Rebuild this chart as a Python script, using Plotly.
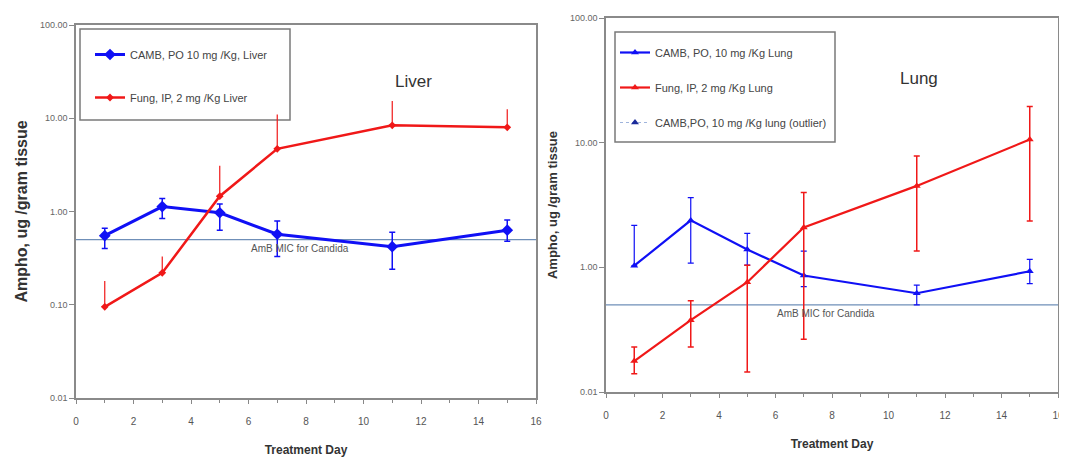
import math
import plotly.graph_objects as go

# ---------------- data ----------------
days = [1, 3, 5, 7, 11, 15]

liver_camb = [0.55, 1.13, 0.97, 0.57, 0.42, 0.63]
liver_camb_hi = [0.66, 1.38, 1.20, 0.79, 0.60, 0.81]
liver_camb_lo = [0.40, 0.84, 0.63, 0.33, 0.24, 0.48]

liver_fung = [0.095, 0.22, 1.46, 4.7, 8.4, 8.0]
liver_fung_hi = [0.18, 0.33, 3.1, 11.0, 15.3, 12.5]

lung_camb = [1.03, 2.38, 1.39, 0.86, 0.62, 0.93]
lung_camb_hi = [2.17, 3.63, 1.87, 1.35, 0.72, 1.16]
lung_camb_lo = [1.03, 1.08, 1.04, 0.70, 0.50, 0.74]

lung_fung = [0.177, 0.377, 0.76, 2.09, 4.5, 10.6]
lung_fung_hi = [0.23, 0.54, 1.04, 3.98, 7.8, 19.5]
lung_fung_lo = [0.14, 0.23, 0.145, 0.265, 1.35, 2.35]

mic_value = 0.5
mic_x = [-0.3, 16]
mic_label = "AmB MIC for Candida"
mic_label_day = 7.8

x_ticks = [0, 2, 4, 6, 8, 10, 12, 14, 16]
x_minor = [1, 3, 5, 7, 9, 11, 13, 15]
liver_yticks = [0.01, 0.1, 1, 10, 100]
liver_yticktext = ["0.01", "0.10", "1.00", "10.00", "100.00"]
lung_yticks = [0.1, 1, 10, 100]
lung_yticktext = ["0.01", "1.00", "10.00", "100.00"]

BLUE = "#1010f5"
RED = "#f01818"
MICC = "#6f8fb8"
OFF = 8                     # page body margin of the html page
W, H = 1067 - OFF, 457 - OFF


def fx(s):
    return (s - OFF) / W


def fy(s):
    return (H - (s - OFF)) / H


def px_x(a, b):
    return [fx(a), fx(b)]


def px_y(top, bottom):
    return [fy(bottom), fy(top)]


def diff(a, b):
    return [x - y for x, y in zip(a, b)]


fig = go.Figure()

# ---- Liver panel ----
fig.add_trace(go.Scatter(x=mic_x, y=[mic_value] * 2, mode="lines", line=dict(color=MICC, width=1.2),
                         showlegend=False, hoverinfo="skip", cliponaxis=False,
                         xaxis="x", yaxis="y"))
fig.add_trace(go.Scatter(
    x=days, y=liver_camb, mode="lines+markers", name="CAMB, PO 10 mg /Kg, Liver",
    line=dict(color=BLUE, width=3), marker=dict(symbol="diamond", size=9, color=BLUE),
    error_y=dict(type="data", symmetric=False, array=diff(liver_camb_hi, liver_camb),
                 arrayminus=diff(liver_camb, liver_camb_lo), color=BLUE, thickness=1.5, width=3),
    legend="legend", legendgroup="a", xaxis="x", yaxis="y"))
fig.add_trace(go.Scatter(
    x=days, y=liver_fung, mode="lines+markers", name="Fung, IP, 2 mg /Kg Liver",
    line=dict(color=RED, width=2.5), marker=dict(symbol="diamond", size=6, color=RED),
    error_y=dict(type="data", symmetric=False, array=diff(liver_fung_hi, liver_fung),
                 arrayminus=[0] * len(days), color=RED, thickness=1.2, width=0),
    legend="legend", legendgroup="b", xaxis="x", yaxis="y"))

# ---- Lung panel ----
fig.add_trace(go.Scatter(x=mic_x, y=[mic_value] * 2, mode="lines", line=dict(color=MICC, width=1.2),
                         showlegend=False, hoverinfo="skip", cliponaxis=False,
                         xaxis="x2", yaxis="y2"))
fig.add_trace(go.Scatter(
    x=days, y=lung_camb, mode="lines+markers", name="CAMB, PO, 10 mg /Kg Lung",
    line=dict(color=BLUE, width=2.2), marker=dict(symbol="triangle-up", size=7, color=BLUE),
    error_y=dict(type="data", symmetric=False, array=diff(lung_camb_hi, lung_camb),
                 arrayminus=diff(lung_camb, lung_camb_lo), color=BLUE, thickness=1.2, width=3),
    legend="legend2", legendgroup="c", xaxis="x2", yaxis="y2"))
fig.add_trace(go.Scatter(
    x=days, y=lung_fung, mode="lines+markers", name="Fung, IP, 2 mg /Kg Lung",
    line=dict(color=RED, width=2.2), marker=dict(symbol="triangle-up", size=7, color=RED),
    error_y=dict(type="data", symmetric=False, array=diff(lung_fung_hi, lung_fung),
                 arrayminus=diff(lung_fung, lung_fung_lo), color=RED, thickness=1.5, width=3),
    legend="legend2", legendgroup="d", xaxis="x2", yaxis="y2"))
fig.add_trace(go.Scatter(
    x=[None], y=[None], mode="lines+markers", name="CAMB,PO, 10 mg /Kg lung (outlier)",
    line=dict(color="#9fb4dc", width=1, dash="dot"),
    marker=dict(symbol="triangle-up", size=7, color="#1a2a9a"),
    legend="legend2", legendgroup="e", xaxis="x2", yaxis="y2"))

axis_font = dict(family="Liberation Sans, Arial", size=9, color="#666666")
xcommon = dict(range=[0, 16], tickvals=x_ticks, ticks="outside", ticklen=4, tickcolor="#888",
               showgrid=False, zeroline=False, showline=True, linecolor="#8a8a8a", linewidth=1.5,
               mirror=True, automargin=False, ticklabelstandoff=9,
               tickfont=dict(family="Liberation Sans, Arial", size=10, color="#555"),
               minor=dict(tickvals=x_minor, ticks="outside", ticklen=3, tickcolor="#888"))
ycommon = dict(type="log", automargin=False, ticks="outside", ticklen=5,
               tickcolor="#888", showgrid=False, zeroline=False, showline=True,
               linecolor="#8a8a8a", linewidth=1.5, mirror=True, tickfont=axis_font)

legend_font = dict(family="Liberation Sans, Arial", size=11, color="#444")

fig.update_layout(
    width=W, height=H,
    margin=dict(l=0, r=0, t=0, b=0),
    paper_bgcolor="white", plot_bgcolor="white",
    font=dict(family="Liberation Sans, Arial", color="#333"),
    xaxis=dict(domain=px_x(76, 536), anchor="y",
               title=dict(text="<b>Treatment Day</b>", font=dict(size=12, color="#333"), standoff=20),
               **xcommon),
    yaxis=dict(domain=px_y(25, 398), anchor="x", range=[-2, 2],
               tickvals=liver_yticks, ticktext=liver_yticktext,
               title=dict(text="<b>Ampho, ug /gram tissue</b>", font=dict(size=16, color="#333"),
                          standoff=8),
               **ycommon),
    xaxis2=dict(domain=px_x(606, 1058), anchor="y2",
                title=dict(text="<b>Treatment Day</b>", font=dict(size=12, color="#333"), standoff=20),
                **xcommon),
    yaxis2=dict(domain=px_y(18, 392), anchor="x2", range=[-1, 2],
                tickvals=lung_yticks, ticktext=lung_yticktext,
                title=dict(text="<b>Ampho, ug /gram tissue</b>", font=dict(size=13, color="#333"),
                           standoff=9),
                **ycommon),
    legend=dict(x=fx(90), y=fy(40), xanchor="left", yanchor="top",
                bgcolor="rgba(0,0,0,0)", borderwidth=0, font=legend_font,
                tracegroupgap=24, itemwidth=30),
    legend2=dict(x=fx(615), y=fy(38), xanchor="left", yanchor="top",
                 bgcolor="rgba(0,0,0,0)", borderwidth=0, font=legend_font,
                 tracegroupgap=16, itemwidth=30),
    showlegend=True,
)

# legend frames
fig.add_shape(type="rect", xref="paper", yref="paper", x0=fx(80), x1=fx(290), y0=fy(120), y1=fy(29),
              line=dict(color="#7a7a7a", width=1.5), fillcolor="white", layer="below")
fig.add_shape(type="rect", xref="paper", yref="paper", x0=fx(615), x1=fx(835), y0=fy(142), y1=fy(32),
              line=dict(color="#7a7a7a", width=1.5), fillcolor="white", layer="below")

fig.add_annotation(x=fx(413), y=fy(70), xref="paper", yref="paper", text="Liver",
                   showarrow=False, font=dict(size=17, color="#333"))
fig.add_annotation(x=fx(940), y=fy(67), xref="paper", yref="paper", text="Lung",
                   showarrow=False, font=dict(size=17, color="#333"))
for xr, yr in (("x", "y"), ("x2", "y2")):
    fig.add_annotation(x=mic_label_day, y=math.log10(mic_value), xref=xr, yref=yr,
                       yanchor="top", yshift=-1, text=mic_label, showarrow=False,
                       font=dict(size=10, color="#555"))

fig.write_html("out.html")
